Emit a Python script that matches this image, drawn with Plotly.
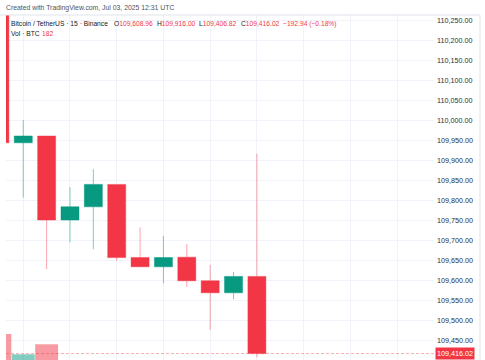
import plotly.graph_objects as go

# ---- data ----
header_text = "Created with TradingView.com, Jul 03, 2025 12:31 UTC"
symbol_text = "Bitcoin / TetherUS · 15 · Binance"
times = ["2025-07-03 09:45", "2025-07-03 10:00", "2025-07-03 10:15", "2025-07-03 10:30",
         "2025-07-03 10:45", "2025-07-03 11:00", "2025-07-03 11:15", "2025-07-03 11:30",
         "2025-07-03 11:45", "2025-07-03 12:00", "2025-07-03 12:15", "2025-07-03 12:30"]
open_ = [110280, 109943, 109960, 109750, 109783, 109839, 109656, 109633, 109657, 109598, 109568, 109608.96]
high = [110300, 110000, 109960, 109832, 109877, 109839, 109732, 109710, 109690, 109638, 109620, 109916.00]
low = [109930, 109806, 109627, 109694, 109677, 109648, 109633, 109592, 109583, 109475, 109552, 109406.82]
close = [109943, 109960, 109750, 109783, 109839, 109656, 109633, 109656, 109598, 109568, 109608.96, 109416.02]
volume = [1020, 614, 814, 420, 380, 480, 260, 230, 310, 440, 210, 182]
price_ticks = [109450, 109500, 109550, 109600, 109650, 109700, 109750, 109800, 109850,
               109900, 109950, 110000, 110050, 110100, 110150, 110200, 110250]

GREEN = "#089981"
RED = "#f23645"
FONT = "Liberation Sans, Arial, sans-serif"

W, H = 485, 360
ML, MR, MT, MB = 6, 51, 15, 0
PW = W - ML - MR
PH = H - MT - MB


def px_x(p):
    return (p - ML) / PW


def px_y(p):
    return (H - MB - p) / PH


vol_colors = ["rgba(8,153,129,0.5)" if c >= o else "rgba(242,54,69,0.5)" for o, c in zip(open_, close)]

fig = go.Figure()
fig.add_trace(go.Bar(
    x=times, y=volume, marker=dict(color=vol_colors, line=dict(width=0)),
    width=880000, yaxis="y2", hoverinfo="skip", showlegend=False,
))
fig.add_trace(go.Candlestick(
    x=times, open=open_, high=high, low=low, close=close,
    increasing=dict(line=dict(color="rgba(8,153,129,0.5)", width=1), fillcolor=GREEN),
    decreasing=dict(line=dict(color="rgba(242,54,69,0.45)", width=1), fillcolor=RED),
    whiskerwidth=0, showlegend=False,
))

last_close = close[-1]
prev_close = open_[-1]
chg = last_close - prev_close
pct = chg / prev_close * 100

fig.add_shape(type="line", xref="paper", yref="y", x0=0, x1=1, y0=last_close, y1=last_close,
              line=dict(color="rgba(242,54,69,0.4)", width=1, dash="3px,2px"))
# borders
fig.add_shape(type="line", xref="paper", yref="paper", x0=px_x(0), x1=px_x(480), y0=1, y1=1,
              line=dict(color="#e0e3eb", width=1))
fig.add_shape(type="line", xref="paper", yref="paper", x0=px_x(480), x1=px_x(480), y0=0, y1=1,
              line=dict(color="#e0e3eb", width=1))

ann = []
ann.append(dict(text=header_text, x=px_x(5), y=px_y(8), xref="paper", yref="paper",
                xanchor="left", yanchor="middle", showarrow=False, borderpad=0,
                font=dict(family=FONT, size=6.85, color="#50535e")))
ann.append(dict(text=symbol_text, x=px_x(10), y=px_y(24), xref="paper", yref="paper",
                xanchor="left", yanchor="middle", showarrow=False, borderpad=0,
                font=dict(family=FONT, size=6.7, color="#131722")))
fmt = lambda v: f"{v:,.2f}"
for lab, val, p in [("O", open_[-1], 113), ("H", high[-1], 156), ("L", low[-1], 198), ("C", close[-1], 240)]:
    ann.append(dict(text=f"{lab}<span style='color:{RED}'>{fmt(val)}</span>", x=px_x(p), y=px_y(24),
                    xref="paper", yref="paper", xanchor="left", yanchor="middle", showarrow=False,
                    borderpad=0, font=dict(family=FONT, size=6.7, color="#131722")))
sign = "−" if chg < 0 else "+"
ann.append(dict(text=f"{sign}{abs(chg):,.2f} ({sign}{abs(pct):.2f}%)", x=px_x(282), y=px_y(24),
                xref="paper", yref="paper", xanchor="left", yanchor="middle", showarrow=False,
                borderpad=0, font=dict(family=FONT, size=6.7, color=RED)))
ann.append(dict(text="Vol · BTC", x=px_x(10), y=px_y(34), xref="paper", yref="paper",
                xanchor="left", yanchor="middle", showarrow=False, borderpad=0,
                font=dict(family=FONT, size=6.7, color="#131722")))
ann.append(dict(text=f"{volume[-1]}", x=px_x(41), y=px_y(34), xref="paper", yref="paper",
                xanchor="left", yanchor="middle", showarrow=False, borderpad=0,
                font=dict(family=FONT, size=6.7, color=RED)))
ann.append(dict(text=fmt(last_close), x=px_x(435), y=last_close, xref="paper", yref="y",
                xanchor="left", yanchor="middle", showarrow=False, bgcolor=RED, borderpad=1,
                font=dict(family=FONT, size=7.2, color="white")))

fig.update_layout(
    width=W, height=H,
    margin=dict(l=ML, r=MR, t=MT, b=MB, autoexpand=False),
    paper_bgcolor="white", plot_bgcolor="white",
    boxgap=0.23, boxgroupgap=0,
    annotations=ann,
    xaxis=dict(type="date", range=["2025-07-03 09:48:55", "2025-07-03 14:23:42"],
               rangeslider=dict(visible=False), showticklabels=False, automargin=False,
               tick0="2025-07-03 10:00", dtick=1800000, showgrid=True, gridcolor="#f0f3fa",
               gridwidth=1, zeroline=False, showline=False, ticks=""),
    yaxis=dict(side="right", range=[109400, 110262.5], tickvals=price_ticks, automargin=False,
               tickformat=",.2f", showgrid=True, gridcolor="#f0f3fa", zeroline=False,
               showline=False, ticks="", ticklabelstandoff=2,
               tickfont=dict(family=FONT, size=7.2, color="#2a2e39")),
    yaxis2=dict(overlaying="y", range=[500, 7400], visible=False, showgrid=False, automargin=False),
)

fig.write_html("out.html", config={"displayModeBar": False},
               post_script="document.body.style.margin='0';document.body.style.overflow='hidden';")
